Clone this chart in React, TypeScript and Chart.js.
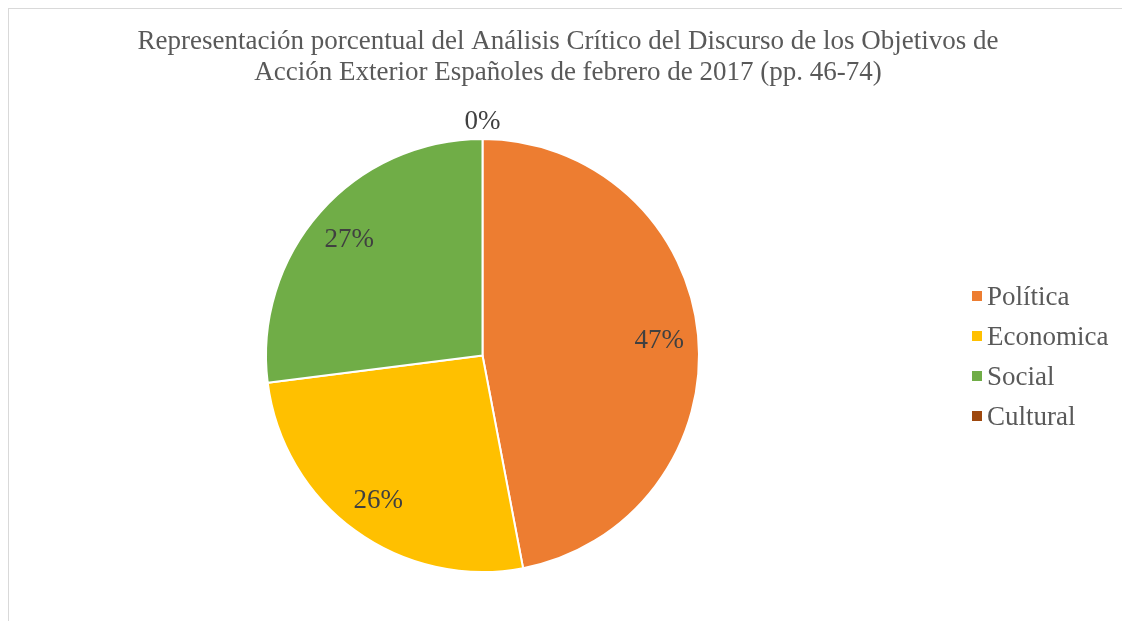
import React, { useEffect, useRef } from "react";
import { Chart, registerables } from "chart.js";

Chart.register(...registerables);

const titleLines = [
  "Representación porcentual del Análisis Crítico del Discurso de los Objetivos de",
  "Acción Exterior Españoles de febrero de 2017 (pp. 46-74)",
];
const categories = ["Política", "Economica", "Social", "Cultural"];
const values = [47, 26, 27, 0];
const colors = ["#ED7D31", "#FFC000", "#70AD47", "#9E480E"];

const FONT = '"Liberation Serif", "Times New Roman", serif';

const decorPlugin = {
  id: "decor",
  afterDatasetsDraw(chart: any) {
    const ctx = chart.ctx as CanvasRenderingContext2D;
    const meta = chart.getDatasetMeta(0);
    const data = chart.data.datasets[0].data as number[];
    const total = data.reduce((a, b) => a + b, 0);
    ctx.save();
    ctx.font = `27px ${FONT}`;
    ctx.fillStyle = "#404040";
    ctx.textAlign = "center";
    ctx.textBaseline = "alphabetic";
    meta.data.forEach((arc: any, i: number) => {
      const p = arc.getProps(["x", "y", "startAngle", "endAngle", "outerRadius"], true);
      const mid = (p.startAngle + p.endAngle) / 2;
      const v = data[i];
      const r = v > 0 ? p.outerRadius * 0.82 : p.outerRadius + 19;
      const x = p.x + Math.cos(mid) * r;
      const y = p.y + Math.sin(mid) * r;
      const pct = Math.round((v / total) * 100);
      ctx.fillText(`${pct}%`, x, y + 9);
    });
    ctx.restore();
  },
  afterDraw(chart: any) {
    const ctx = chart.ctx as CanvasRenderingContext2D;
    ctx.save();
    // title
    ctx.font = `27px ${FONT}`;
    ctx.fillStyle = "#595959";
    ctx.textAlign = "center";
    ctx.textBaseline = "alphabetic";
    titleLines.forEach((line, i) => {
      ctx.fillText(line, 568, 49 + i * 31);
    });
    // legend
    const labels = chart.data.labels as string[];
    const bg = chart.data.datasets[0].backgroundColor as string[];
    ctx.textAlign = "left";
    labels.forEach((lab, i) => {
      const cy = 296 + i * 40;
      ctx.fillStyle = bg[i];
      ctx.fillRect(972, cy - 5, 10, 10);
      ctx.fillStyle = "#595959";
      ctx.fillText(lab, 987, cy + 9);
    });
    ctx.restore();
  },
};

export default function App() {
  const ref = useRef<HTMLCanvasElement>(null);
  useEffect(() => {
    if (!ref.current) return;
    const chart = new Chart(ref.current, {
      type: "pie",
      data: {
        labels: categories,
        datasets: [
          {
            data: values,
            backgroundColor: colors,
            borderColor: "#ffffff",
            borderWidth: 2,
          },
        ],
      },
      options: {
        animation: false,
        responsive: false,
        maintainAspectRatio: false,
        layout: { padding: { top: 138, bottom: 48, left: 265, right: 422 } },
        plugins: {
          legend: { display: false },
          title: { display: false },
          tooltip: { enabled: false },
        },
      },
      plugins: [decorPlugin],
    });
    return () => chart.destroy();
  }, []);
  return (
    <div
      style={{
        position: "fixed",
        left: 0,
        top: 0,
        width: 1122,
        height: 621,
        overflow: "hidden",
        background: "#ffffff",
      }}
    >
      <div
        style={{
          position: "absolute",
          left: 8,
          top: 8,
          width: 1300,
          height: 900,
          border: "1px solid #d9d9d9",
          boxSizing: "border-box",
        }}
      />
      <canvas
        ref={ref}
        width={1122}
        height={621}
        style={{ position: "absolute", left: 0, top: 0, width: 1122, height: 621 }}
      />
    </div>
  );
}
